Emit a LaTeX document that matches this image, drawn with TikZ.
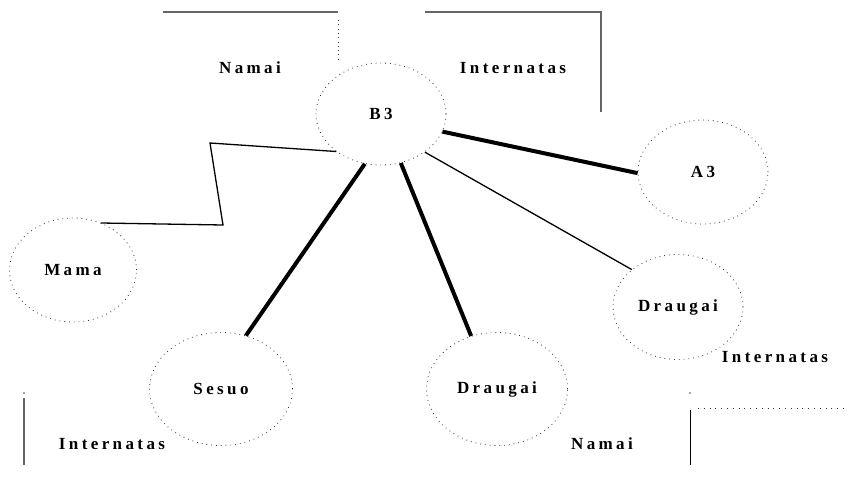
\documentclass[tikz,border=0pt]{standalone}
\usepackage{fontspec}
\usetikzlibrary{shapes.geometric}
\newfontfamily\lblfont[LetterSpace=20]{Liberation Serif}
\tikzset{
  person/.style={ellipse, draw=black!80, line width=0.8pt, dash pattern=on 0.8pt off 4pt, inner sep=0pt, font=\lblfont\bfseries\fontsize{17}{17}\selectfont},
  lbl/.style={font=\lblfont\bfseries\fontsize{17}{17}\selectfont, inner sep=0pt},
  heavy/.style={line width=4pt, black},
  light/.style={line width=1.3pt, black},
  frame/.style={line width=1.3pt, black!60},
  sparse/.style={line width=0.8pt, black!80, dash pattern=on 0.8pt off 3.5pt},
}
\begin{document}
\begin{tikzpicture}[x=1pt,y=-1pt]
\useasboundingbox (0,0) rectangle (856,493);
% frames
\draw[frame] (163,12) -- (338,12);
\draw[sparse] (338,20) -- (338,60);
\draw[frame] (425,12) -- (601,12) -- (601,112);
\draw[frame] (24,398) -- (24,465);
\fill[black!70] (24,393) circle (0.8);
\draw[light, line width=1pt] (690,410) -- (690,465);
\fill[black!70] (690,393) circle (0.8);
\draw[sparse, dash pattern=on 0.8pt off 5pt] (698,408) -- (845,408);
% labels
\node[lbl] (namaiT) at (250,68) {Namai};
\node[lbl] (internT) at (513,68) {Internatas};
\node[lbl] (internR) at (775,357) {Internatas};
\node[lbl] (internB) at (112,444) {Internatas};
\node[lbl] (namaiB) at (602,444) {Namai};
% people
\node[person, minimum width=130pt, minimum height=102pt] (b3) at (381,114) {B3};
\node[person, minimum width=130pt, minimum height=104pt] (a3) at (703,172) {A3};
\node[person, minimum width=130pt, minimum height=105pt] (dr) at (678,307) {Draugai};
\node[person, minimum width=143pt, minimum height=113pt] (sesuo) at (221,389) {Sesuo};
\node[person, minimum width=141pt, minimum height=113pt] (db) at (497,389) {Draugai};
\node[person, minimum width=127pt, minimum height=104pt] (mama) at (73,270) {Mama};
% connectors
\draw[heavy] (b3.-16) -- (a3.181);
\draw[light] (b3.-41) -- (dr.141);
\draw[heavy] (b3.-108) -- (sesuo.65);
\draw[heavy] (b3.-68) -- (db.116);
\coordinate (z1) at (210,143);
\coordinate (z2) at (223,225);
\draw[light] (b3.220) -- (z1) -- (z2) -- (mama.59);
\end{tikzpicture}
\end{document}
